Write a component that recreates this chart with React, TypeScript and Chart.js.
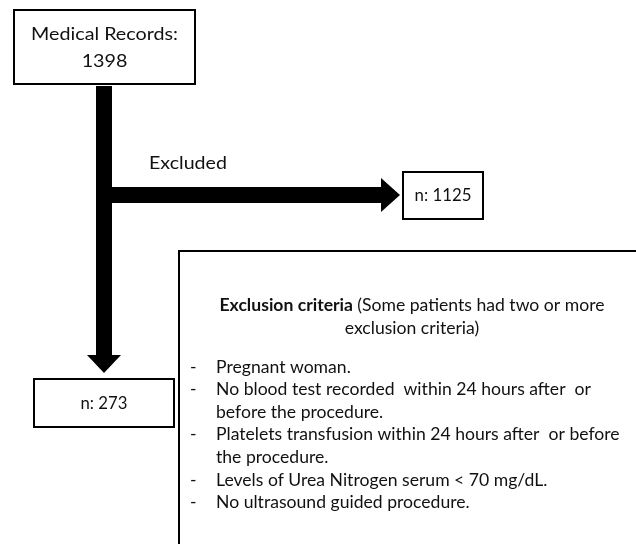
import React, { useEffect, useRef } from "react";
import { Chart, registerables } from "chart.js";

Chart.register(...registerables);

// ---- data ----
const recordsLabel = "Medical Records:";
const recordsTotal = 1398;
const excludedLabel = "Excluded";
const excludedCount = 1125;
const includedCount = 273;
const criteriaTitleBold = "Exclusion criteria";
const criteriaTitleRest = ["(Some patients had two or more", "exclusion criteria)"];
const criteriaItems = [
  ["Pregnant woman."],
  ["No blood test recorded  within 24 hours after  or", "before the procedure."],
  ["Platelets transfusion within 24 hours after  or before", "the procedure."],
  ["Levels of Urea Nitrogen serum < 70 mg/dL."],
  ["No ultrasound guided procedure."],
];

// ---- layout (in scale units, 1 unit = 1 px of the 636x544 frame) ----
const W = 636;
const H = 544;
const FONT = "Lato, 'Noto Sans', sans-serif";
const CAP_RATIO = 0.7165;
const CAP_TARGET = 12.4;
const layout = {
  topBox: { x0: 14, y0: 10, x1: 195, y1: 84 },
  vShaft: { x0: 96, x1: 112, y0: 86, y1: 356 },
  vHead: { x0: 87, x1: 121, y0: 355, y1: 373 },
  hShaft: { x0: 112, x1: 383, y0: 187, y1: 203 },
  hHead: { x0: 381, x1: 400, y0: 178, y1: 212 },
  exclBox: { x0: 403, y0: 172, x1: 483, y1: 219 },
  inclBox: { x0: 34, y0: 379, x1: 174, y1: 427 },
  critBox: { x0: 179, y0: 251, x1: 645, y1: 560 },
  excludedText: { x: 149, y: 163, w: 78 },
  critTitleX: 412,
  critTitleY: [305, 328],
  dashX: 190,
  itemX: 216,
  itemY0: 367,
  itemStep: 22.6,
};

function fitSize(ctx: CanvasRenderingContext2D, text: string, target: number, weight = "normal") {
  ctx.font = `${weight} 100px ${FONT}`;
  const w = ctx.measureText(text).width;
  return (100 * target) / w;
}

function drawText(ctx: CanvasRenderingContext2D, text: string, x: number, y: number, size: number) {
  const sy = CAP_TARGET / (CAP_RATIO * size);
  ctx.save();
  ctx.translate(x, y);
  ctx.scale(1, sy);
  ctx.fillText(text, 0, 0);
  ctx.restore();
}

const flowPlugin = {
  id: "flow",
  afterDraw(chart: any) {
    const ctx: CanvasRenderingContext2D = chart.ctx;
    const xs = chart.scales.x;
    const ys = chart.scales.y;
    const px = (v: number) => xs.getPixelForValue(v);
    const py = (v: number) => ys.getPixelForValue(v);
    ctx.save();
    ctx.fillStyle = "#fff";
    ctx.fillRect(0, 0, chart.width, chart.height);

    const rect = (b: any, lw = 2) => {
      ctx.lineWidth = lw;
      ctx.strokeStyle = "#000";
      ctx.fillStyle = "#fff";
      ctx.beginPath();
      ctx.rect(px(b.x0), py(b.y0), px(b.x1) - px(b.x0), py(b.y1) - py(b.y0));
      ctx.fill();
      ctx.stroke();
    };

    // arrows
    ctx.fillStyle = "#000";
    const L = layout;
    ctx.fillRect(px(L.vShaft.x0), py(L.vShaft.y0), px(L.vShaft.x1) - px(L.vShaft.x0), py(L.vShaft.y1) - py(L.vShaft.y0));
    ctx.beginPath();
    ctx.moveTo(px(L.vHead.x0), py(L.vHead.y0));
    ctx.lineTo(px(L.vHead.x1), py(L.vHead.y0));
    ctx.lineTo(px((L.vHead.x0 + L.vHead.x1) / 2), py(L.vHead.y1));
    ctx.closePath();
    ctx.fill();
    ctx.fillRect(px(L.hShaft.x0), py(L.hShaft.y0), px(L.hShaft.x1) - px(L.hShaft.x0), py(L.hShaft.y1) - py(L.hShaft.y0));
    ctx.beginPath();
    ctx.moveTo(px(L.hHead.x0), py(L.hHead.y0));
    ctx.lineTo(px(L.hHead.x0), py(L.hHead.y1));
    ctx.lineTo(px(L.hHead.x1), py((L.hHead.y0 + L.hHead.y1) / 2));
    ctx.closePath();
    ctx.fill();

    // boxes
    rect(L.topBox);
    rect(L.exclBox);
    rect(L.inclBox);
    rect(L.critBox);

    ctx.fillStyle = "#111";
    ctx.textBaseline = "middle";
    ctx.textAlign = "center";

    // top box text
    const s1 = fitSize(ctx, recordsLabel, 147);
    ctx.font = `normal ${s1}px ${FONT}`;
    const tcx = px((L.topBox.x0 + L.topBox.x1) / 2);
    drawText(ctx, recordsLabel, tcx, py(34), s1);
    drawText(ctx, String(recordsTotal), tcx, py(61), s1);

    // excluded label
    const s2 = fitSize(ctx, excludedLabel, L.excludedText.w);
    ctx.font = `normal ${s2}px ${FONT}`;
    ctx.textAlign = "left";
    drawText(ctx, excludedLabel, px(L.excludedText.x), py(L.excludedText.y), s2);

    // counts
    ctx.textAlign = "center";
    const t3 = `n: ${excludedCount}`;
    const s3 = fitSize(ctx, t3, 57);
    ctx.font = `normal ${s3}px ${FONT}`;
    drawText(ctx, t3, px((L.exclBox.x0 + L.exclBox.x1) / 2), py((L.exclBox.y0 + L.exclBox.y1) / 2), s3);
    const t4 = `n: ${includedCount}`;
    const s4 = fitSize(ctx, t4, 47);
    ctx.font = `normal ${s4}px ${FONT}`;
    drawText(ctx, t4, px((L.inclBox.x0 + L.inclBox.x1) / 2), py((L.inclBox.y0 + L.inclBox.y1) / 2), s4);

    // criteria
    const s5 = fitSize(ctx, criteriaItems[2][0], 404);
    ctx.font = `bold ${s5}px ${FONT}`;
    const wb = ctx.measureText(criteriaTitleBold + " ").width;
    ctx.font = `normal ${s5}px ${FONT}`;
    const wr = ctx.measureText(criteriaTitleRest[0]).width;
    const startX = px(L.critTitleX) - (wb + wr) / 2;
    ctx.textAlign = "left";
    ctx.font = `bold ${s5}px ${FONT}`;
    drawText(ctx, criteriaTitleBold, startX, py(L.critTitleY[0]), s5);
    ctx.font = `normal ${s5}px ${FONT}`;
    drawText(ctx, criteriaTitleRest[0], startX + wb, py(L.critTitleY[0]), s5);
    ctx.textAlign = "center";
    drawText(ctx, criteriaTitleRest[1], px(L.critTitleX), py(L.critTitleY[1]), s5);

    ctx.textAlign = "left";
    let row = 0;
    criteriaItems.forEach((item) => {
      item.forEach((line, i) => {
        const y = py(L.itemY0 + row * L.itemStep);
        if (i === 0) drawText(ctx, "-", px(L.dashX), y, s5);
        drawText(ctx, line, px(L.itemX), y, s5);
        row++;
      });
    });
    ctx.restore();
  },
};

export default function App() {
  const ref = useRef<HTMLCanvasElement>(null);
  useEffect(() => {
    document.body.style.margin = "0";
    const chart = new Chart(ref.current!, {
      type: "scatter",
      data: { datasets: [{ data: [], pointRadius: 0 }] },
      options: {
        animation: false,
        responsive: false,
        devicePixelRatio: 1,
        layout: { padding: 0 },
        plugins: { legend: { display: false }, tooltip: { enabled: false } },
        scales: {
          x: { type: "linear", min: 0, max: W, display: false },
          y: { type: "linear", min: 0, max: H, reverse: true, display: false },
        },
      },
      plugins: [flowPlugin],
    });
    return () => chart.destroy();
  }, []);
  return (
    <div style={{ position: "fixed", left: 0, top: 0, width: W, height: H, background: "#fff" }}>
      <canvas ref={ref} width={W} height={H} style={{ width: W, height: H, display: "block" }} />
    </div>
  );
}
